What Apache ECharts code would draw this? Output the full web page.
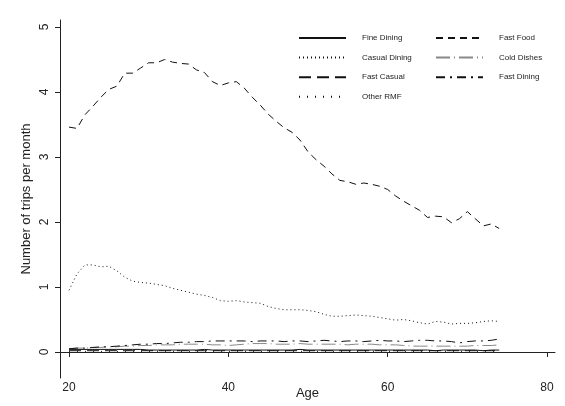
<!DOCTYPE html>
<html>
<head>
<meta charset="utf-8">
<script src="https://cdn.jsdelivr.net/npm/echarts@6/dist/echarts.min.js"></script>
<style>
  html, body { margin: 0; padding: 0; background: #fff; }
  #chart { width: 565px; height: 406px; }
</style>
</head>
<body>
<div id="chart"></div>
<script>
// ages 20..74
var ages = [20, 21, 22, 23, 24, 25, 26, 27, 28, 29, 30, 31, 32, 33, 34, 35, 36, 37, 38, 39,
  40, 41, 42, 43, 44, 45, 46, 47, 48, 49, 50, 51, 52, 53, 54, 55, 56, 57, 58, 59,
  60, 61, 62, 63, 64, 65, 66, 67, 68, 69, 70, 71, 72, 73, 74];

var fastFood = [3.46, 3.44, 3.65, 3.78, 3.92, 4.04, 4.09, 4.29, 4.29, 4.37, 4.45, 4.45, 4.5, 4.46, 4.44, 4.43, 4.34, 4.3, 4.16, 4.1,
  4.14, 4.16, 4.06, 3.92, 3.8, 3.66, 3.55, 3.45, 3.38, 3.26, 3.08, 2.96, 2.86, 2.74, 2.64, 2.62, 2.58, 2.6, 2.58, 2.55,
  2.5, 2.4, 2.32, 2.25, 2.18, 2.07, 2.09, 2.08, 1.99, 2.05, 2.16, 2.05, 1.94, 1.97, 1.9];

var casualDining = [0.95, 1.2, 1.34, 1.34, 1.31, 1.32, 1.25, 1.15, 1.09, 1.07, 1.06, 1.04, 1.02, 0.98, 0.95, 0.92, 0.89, 0.87, 0.84, 0.79,
  0.78, 0.79, 0.77, 0.76, 0.75, 0.7, 0.67, 0.65, 0.65, 0.65, 0.64, 0.62, 0.58, 0.55, 0.55, 0.56, 0.57, 0.56, 0.55, 0.53,
  0.51, 0.49, 0.5, 0.48, 0.45, 0.43, 0.47, 0.46, 0.43, 0.44, 0.44, 0.45, 0.47, 0.48, 0.47];

var fastDining = [0.05, 0.06, 0.06, 0.07, 0.08, 0.08, 0.09, 0.10, 0.11, 0.12, 0.12, 0.13, 0.13, 0.14, 0.15, 0.15, 0.16, 0.16, 0.17, 0.17,
  0.17, 0.17, 0.17, 0.16, 0.17, 0.17, 0.17, 0.16, 0.17, 0.17, 0.16, 0.17, 0.18, 0.17, 0.16, 0.17, 0.17, 0.16, 0.17, 0.18,
  0.17, 0.17, 0.16, 0.17, 0.18, 0.18, 0.17, 0.17, 0.16, 0.14, 0.16, 0.17, 0.17, 0.18, 0.2];

var coldDishes = [0.05, 0.06, 0.06, 0.07, 0.07, 0.08, 0.08, 0.09, 0.09, 0.10, 0.10, 0.11, 0.11, 0.11, 0.12, 0.12, 0.12, 0.12, 0.11, 0.11,
  0.10, 0.11, 0.12, 0.13, 0.13, 0.13, 0.12, 0.12, 0.12, 0.13, 0.12, 0.12, 0.12, 0.12, 0.12, 0.11, 0.12, 0.12, 0.12, 0.11,
  0.11, 0.11, 0.10, 0.09, 0.09, 0.09, 0.09, 0.09, 0.09, 0.09, 0.09, 0.10, 0.10, 0.10, 0.11];

var fineDining = [0.04, 0.04, 0.04, 0.04, 0.04, 0.04, 0.04, 0.04, 0.04, 0.04, 0.03, 0.03, 0.03, 0.03, 0.03, 0.03, 0.03, 0.04, 0.03, 0.03,
  0.03, 0.03, 0.03, 0.03, 0.03, 0.03, 0.03, 0.03, 0.03, 0.04, 0.03, 0.03, 0.03, 0.03, 0.03, 0.03, 0.03, 0.03, 0.03, 0.03,
  0.03, 0.03, 0.03, 0.03, 0.03, 0.03, 0.02, 0.03, 0.03, 0.03, 0.03, 0.03, 0.02, 0.03, 0.03];

var fastCasual = [0.02, 0.02, 0.02, 0.02, 0.02, 0.02, 0.02, 0.02, 0.02, 0.02, 0.02, 0.02, 0.02, 0.02, 0.02, 0.02, 0.02, 0.02, 0.02, 0.02,
  0.02, 0.02, 0.02, 0.02, 0.02, 0.02, 0.02, 0.02, 0.02, 0.02, 0.02, 0.02, 0.02, 0.02, 0.02, 0.02, 0.02, 0.02, 0.02, 0.02,
  0.02, 0.02, 0.02, 0.02, 0.02, 0.02, 0.02, 0.02, 0.02, 0.02, 0.02, 0.02, 0.02, 0.02, 0.02];

var otherRMF = [0.01, 0.01, 0.01, 0.01, 0.01, 0.01, 0.01, 0.01, 0.01, 0.01, 0.01, 0.01, 0.01, 0.01, 0.01, 0.01, 0.01, 0.01, 0.01, 0.01,
  0.01, 0.01, 0.01, 0.01, 0.01, 0.01, 0.01, 0.01, 0.01, 0.01, 0.01, 0.01, 0.01, 0.01, 0.01, 0.01, 0.01, 0.01, 0.01, 0.01,
  0.01, 0.01, 0.01, 0.01, 0.01, 0.01, 0.01, 0.01, 0.01, 0.01, 0.01, 0.01, 0.01, 0.01, 0.01];

var xTicks = [20, 40, 60, 80];
var yTicks = [0, 1, 2, 3, 4, 5];

var seriesNames = ['Fine Dining', 'Fast Food', 'Casual Dining', 'Cold Dishes', 'Fast Casual', 'Fast Dining', 'Other RMF'];
var seriesValues = [fineDining, fastFood, casualDining, coldDishes, fastCasual, fastDining, otherRMF];
var seriesDash = ['solid', [7, 5], [1, 3], [14, 4, 1, 4], [12, 6], [9, 5, 2, 5], [1, 7]];
var seriesColor = ['#111', '#111', '#111', '#888', '#111', '#111', '#111'];

var myChart = echarts.init(document.getElementById('chart'));

var series = [];
seriesNames.map(function (name, i) {
  series.push({
    name: name,
    type: 'line',
    symbol: 'none',
    animation: false,
    data: ages.map(function (a, j) { return [a, seriesValues[i][j]]; }),
    lineStyle: { color: seriesColor[i], width: 1, type: seriesDash[i] },
    itemStyle: { color: seriesColor[i] }
  });
});

var legendBase = {
  orient: 'vertical',
  top: 34,
  padding: 0,
  itemWidth: 47,
  itemHeight: 10,
  itemGap: 11.6,
  itemStyle: { opacity: 0 },
  textStyle: { fontFamily: 'Liberation Sans', fontSize: 8, color: '#222', padding: [0, 0, 0, 11] },
  selectedMode: false
};

var option = {
  backgroundColor: '#fff',
  animation: false,
  textStyle: { fontFamily: 'Liberation Sans' },
  grid: { left: 60, right: 10, top: 20, bottom: 28, containLabel: false, outerBoundsMode: 'none' },
  legend: [
    Object.assign({}, legendBase, { left: 298, data: ['Fine Dining', 'Casual Dining', 'Fast Casual', 'Other RMF'] }),
    Object.assign({}, legendBase, { left: 435, data: ['Fast Food', 'Cold Dishes', 'Fast Dining'] })
  ],
  xAxis: {
    type: 'value',
    min: 18.87,
    max: 81,
    name: 'Age',
    nameLocation: 'middle',
    nameGap: 9,
    nameMoveOverlap: false,
    nameTextStyle: { fontSize: 13, color: '#222' },
    axisLine: { show: true, lineStyle: { color: '#222', width: 1 } },
    axisTick: { show: true, customValues: xTicks, length: 5, lineStyle: { color: '#222' } },
    axisLabel: { customValues: xTicks, fontSize: 12, color: '#222', margin: 4 },
    splitLine: { show: false }
  },
  yAxis: {
    type: 'value',
    min: -0.4,
    max: 5.108,
    name: 'Number of trips per month',
    nameLocation: 'middle',
    nameGap: 27,
    nameMoveOverlap: false,
    nameTextStyle: { fontSize: 13, color: '#222' },
    axisLine: { show: true, lineStyle: { color: '#222', width: 1 } },
    axisTick: { show: true, customValues: yTicks, length: 5, lineStyle: { color: '#222' } },
    axisLabel: { customValues: yTicks, fontSize: 12, color: '#222', rotate: 90, margin: 9 },
    splitLine: { show: false }
  },
  series: series
};

myChart.setOption(option);
</script>
</body>
</html>
